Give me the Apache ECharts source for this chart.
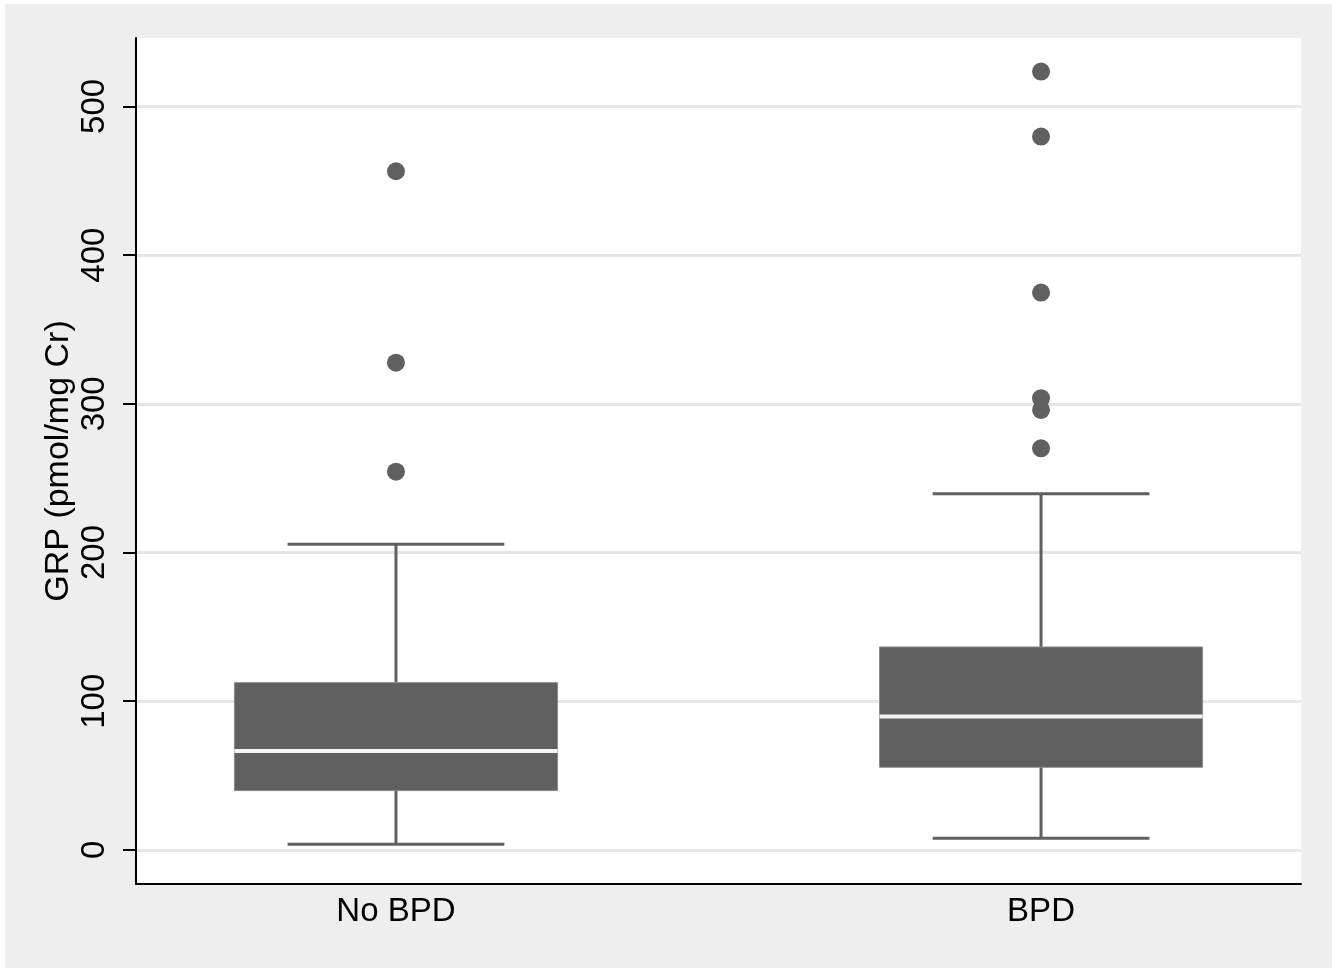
<!DOCTYPE html>
<html>
<head>
<meta charset="utf-8">
<script src="https://cdn.jsdelivr.net/npm/echarts@6/dist/echarts.min.js"></script>
<style>
  html, body { margin: 0; padding: 0; background: #ffffff; }
  #frame { position: absolute; left: 5px; top: 4px; width: 1327px; height: 964px; background: #eeeeee; }
  #chart { position: absolute; left: 0; top: 0; width: 1341px; height: 968px; }
</style>
</head>
<body>
<div id="frame"></div>
<div id="chart"></div>
<script>
// ---- data ----
const categories = ['No BPD', 'BPD'];
const whiskerLow = [3.8, 7.9];
const q1 = [39.9, 55.6];
const median = [66.6, 89.8];
const q3 = [112.5, 136.5];
const whiskerHigh = [205.6, 239.6];
const outliersNoBPD = [456.4, 327.7, 254.4];
const outliersBPD = [523.4, 479.7, 374.8, 303.8, 295.9, 270.1];
const yTicks = [0, 100, 200, 300, 400, 500];
const yTitle = 'GRP (pmol/mg Cr)';

const boxColor = '#606060';
const boxData = categories.map((c, i) => [i + 1, whiskerLow[i], q1[i], median[i], q3[i], whiskerHigh[i]]);
const outlierData = []
  .concat(outliersNoBPD.map(v => [1, v]))
  .concat(outliersBPD.map(v => [2, v]));

const chart = echarts.init(document.getElementById('chart'), null, { renderer: 'canvas' });

function renderBox(params, api) {
  const x = api.value(0);
  const lo = api.coord([x, api.value(1)]);
  const b1 = api.coord([x, api.value(2)]);
  const md = api.coord([x, api.value(3)]);
  const b3 = api.coord([x, api.value(4)]);
  const hi = api.coord([x, api.value(5)]);
  const boxHalf = api.size([0.2504, 0])[0];
  const capHalf = api.size([0.168, 0])[0];
  const cx = lo[0];
  const lineStyle = { stroke: boxColor, lineWidth: 3 };
  return {
    type: 'group',
    children: [
      { type: 'line', shape: { x1: cx, y1: b3[1], x2: cx, y2: hi[1] }, style: lineStyle },
      { type: 'line', shape: { x1: cx, y1: b1[1], x2: cx, y2: lo[1] }, style: lineStyle },
      { type: 'line', shape: { x1: cx - capHalf, y1: hi[1], x2: cx + capHalf, y2: hi[1] }, style: lineStyle },
      { type: 'line', shape: { x1: cx - capHalf, y1: lo[1], x2: cx + capHalf, y2: lo[1] }, style: lineStyle },
      { type: 'rect', shape: { x: cx - boxHalf, y: b3[1], width: boxHalf * 2, height: b1[1] - b3[1] },
        style: { fill: boxColor, stroke: '#8a8a8a', lineWidth: 1 } },
      { type: 'line', shape: { x1: cx - boxHalf, y1: md[1], x2: cx + boxHalf, y2: md[1] },
        style: { stroke: '#f4f4f4', lineWidth: 4 } }
    ]
  };
}

const font = 'Liberation Sans, Arial, sans-serif';

const option = {
  backgroundColor: 'transparent',
  animation: false,
  grid: {
    left: 136, right: 40, top: 38, bottom: 84,
    show: true, backgroundColor: '#ffffff', borderWidth: 0
  },
  xAxis: {
    type: 'value',
    min: 0.597, max: 2.403,
    axisLine: { show: true, onZero: false, lineStyle: { color: '#000', width: 2 } },
    axisTick: { show: false, customValues: [1, 2] },
    splitLine: { show: false },
    axisLabel: {
      customValues: [1, 2],
      formatter: v => categories[Math.round(v) - 1] || '',
      fontFamily: font,
      fontSize: 33, color: '#000', margin: 11
    }
  },
  yAxis: {
    type: 'value',
    min: -22.9, max: 546,
    name: yTitle,
    nameLocation: 'middle',
    nameRotate: 90,
    nameGap: 60,
    nameMoveOverlap: false,
    nameTextStyle: { fontFamily: font, fontSize: 34, color: '#000' },
    axisLine: { show: true, lineStyle: { color: '#000', width: 2 } },
    axisTick: { show: true, length: 13, customValues: yTicks, lineStyle: { color: '#000', width: 2 } },
    splitLine: { show: true, lineStyle: { color: '#e5e5e5', width: 3 } },
    axisLabel: {
      customValues: yTicks,
      rotate: 90,
      fontFamily: font,
      fontSize: 33, color: '#000', margin: 25
    }
  },
  series: [
    {
      type: 'custom',
      renderItem: renderBox,
      data: boxData,
      encode: { x: 0, y: [1, 2, 3, 4, 5] },
      z: 3
    },
    {
      type: 'scatter',
      data: outlierData,
      symbol: 'circle',
      symbolSize: 18,
      itemStyle: { color: boxColor, opacity: 1 },
      z: 4
    }
  ]
};
chart.setOption(option);
</script>
</body>
</html>
